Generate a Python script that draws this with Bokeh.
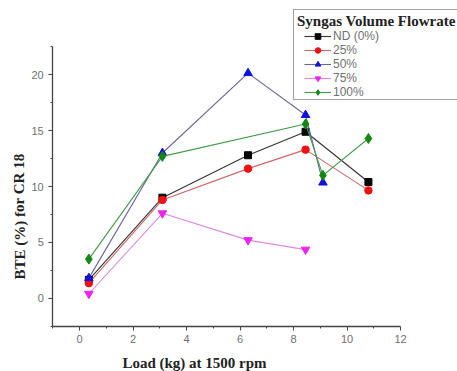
from bokeh.plotting import figure
from bokeh.models import Legend, LegendItem, Label, Range1d, FixedTicker, LinearAxis
from bokeh.embed import file_html
from bokeh.resources import INLINE

series_names = ["ND (0%)", "25%", "50%", "75%", "100%"]
x_nd = [0.35, 3.1, 6.3, 8.45, 10.8]
y_nd = [1.65, 9.0, 12.8, 14.9, 10.4]
x_25 = [0.35, 3.1, 6.3, 8.45, 10.8]
y_25 = [1.35, 8.8, 11.6, 13.3, 9.65]
x_50 = [0.35, 3.1, 6.3, 8.45, 9.1]
y_50 = [1.8, 13.0, 20.15, 16.4, 10.35]
x_75 = [0.35, 3.1, 6.3, 8.45]
y_75 = [0.4, 7.6, 5.2, 4.35]
x_100 = [0.35, 3.1, 8.45, 9.1, 10.8]
y_100 = [3.5, 12.7, 15.6, 11.0, 14.3]
x_ticks = [0, 2, 4, 6, 8, 10, 12]
x_minor = [-1, 1, 3, 5, 7, 9, 11]
y_ticks = [0, 5, 10, 15, 20]
y_minor = [-2.5, 2.5, 7.5, 12.5, 17.5, 22.5]
x_bounds = (-1, 12)
y_bounds = (-2.5, 22.5)

W, H = 457, 371
# frame covers the whole canvas; axes are drawn at fixed locations inside it
p = figure(width=W, height=H, output_backend="svg", toolbar_location=None,
           x_axis_type=None, y_axis_type=None,
           x_range=Range1d(-2.953, 14.13), y_range=Range1d(-6.56, 26.65),
           min_border=0)
p.outline_line_color = None
p.grid.visible = False
p.background_fill_color = "white"
p.border_fill_color = "white"

xaxis = LinearAxis(fixed_location=y_bounds[0], bounds=x_bounds,
                   ticker=FixedTicker(ticks=x_ticks, minor_ticks=x_minor))
yaxis = LinearAxis(fixed_location=x_bounds[0], bounds=y_bounds,
                   ticker=FixedTicker(ticks=y_ticks, minor_ticks=y_minor))
p.add_layout(xaxis, "below")
p.add_layout(yaxis, "left")

for ax in (xaxis, yaxis):
    ax.axis_line_color = "#444444"
    ax.axis_line_width = 1.3
    ax.major_tick_line_color = "#444444"
    ax.minor_tick_line_color = "#444444"
    ax.major_tick_out = 4
    ax.major_tick_in = 0
    ax.minor_tick_out = 2
    ax.minor_tick_in = 0
    ax.major_label_text_font = "Liberation Sans"
    ax.major_label_text_font_size = "11px"
    ax.major_label_text_color = "#707070"

styles = [
    (x_nd, y_nd, "#333333", "black", "square", 7),
    (x_25, y_25, "#cc6666", "#ee1111", "circle", 7.5),
    (x_50, y_50, "#666699", "#1111dd", "triangle", 8.5),
    (x_75, y_75, "#dd88dd", "#ee22ee", "inverted_triangle", 8.5),
    (x_100, y_100, "#44994a", "#118811", "diamond", 10),
]
items = []
for name, (xs, ys, lc, mc, mk, sz) in zip(series_names, styles):
    r1 = p.line(xs, ys, line_color=lc, line_width=1.1)
    r2 = p.scatter(xs, ys, marker=mk, size=sz, fill_color=mc, line_color=mc)
    items.append(LegendItem(label=name, renderers=[r1, r2]))

# legend box with title
dummy = p.scatter(x=[], y=[], alpha=0)
box = Legend(items=[LegendItem(label=" ", renderers=[dummy])],
             title="Syngas Volume Flowrate", location=(293, H - 100),
             title_text_font="Liberation Serif", title_text_font_style="bold",
             title_text_font_size="15px", title_text_color="#222222",
             title_standoff=0, padding=3, margin=0, spacing=0,
             label_height=66, glyph_height=66, glyph_width=10,
             border_line_color="#444444", border_line_width=1.5,
             background_fill_color="white", background_fill_alpha=1,
             label_text_font_size="8px")
p.add_layout(box, "center")

leg = Legend(items=items, location=(304, H - 99), padding=0, margin=0, spacing=0,
             label_height=14, glyph_height=14, glyph_width=27, label_standoff=2,
             label_text_font="Liberation Sans", label_text_font_size="12px",
             label_text_color="#707070", border_line_alpha=0, background_fill_alpha=0)
p.add_layout(leg, "center")

p.add_layout(Label(x=194, y=H - 362, x_units="screen", y_units="screen",
                   text="Load (kg) at 1500 rpm", text_font="Liberation Serif",
                   text_font_style="bold", text_font_size="15px", text_color="#222222",
                   text_align="center", text_baseline="middle"))
p.add_layout(Label(x=19, y=H - 216, x_units="screen", y_units="screen",
                   text="BTE (%) for CR 18", text_font="Liberation Serif",
                   text_font_style="bold", text_font_size="15px", text_color="#222222",
                   text_align="center", text_baseline="middle", angle=1.5708))

open("out.html", "w").write(file_html(p, INLINE))
